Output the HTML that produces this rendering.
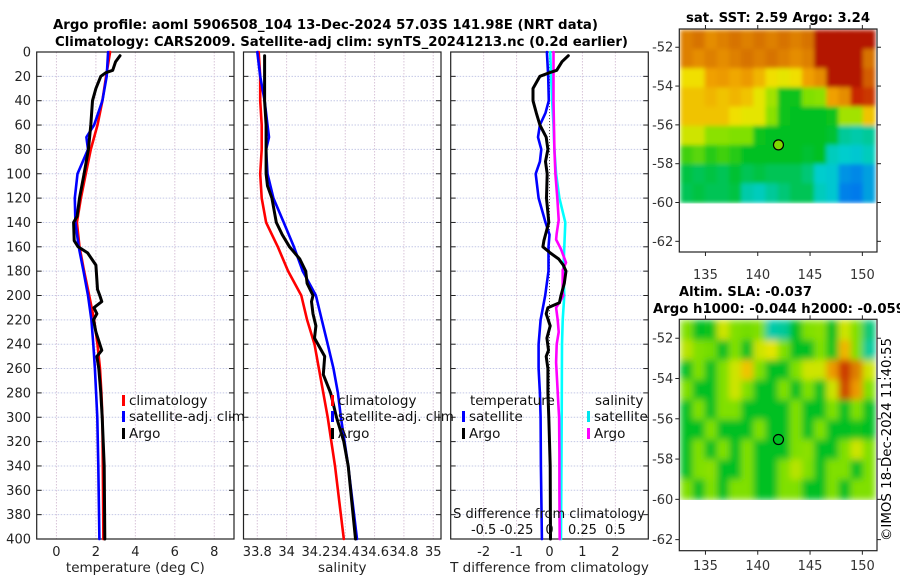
<!DOCTYPE html>
<html><head><meta charset="utf-8">
<style>
html,body{margin:0;padding:0;background:#fff;}
svg{display:block;font-family:"DejaVu Sans","Liberation Sans",sans-serif;}
</style></head>
<body>
<svg id="fig" width="900" height="580" viewBox="0 0 900 580" xmlns="http://www.w3.org/2000/svg">
<defs>
<filter id="blurA" x="0" y="0" width="1" height="1"><feGaussianBlur stdDeviation="2" edgeMode="duplicate"/></filter>
<filter id="blurB" x="0" y="0" width="1" height="1"><feGaussianBlur stdDeviation="3.5" edgeMode="duplicate"/></filter>
</defs>
<text x="53" y="29" font-size="13.5" font-weight="bold" textLength="545" lengthAdjust="spacingAndGlyphs">Argo profile: aoml 5906508_104 13-Dec-2024 57.03S 141.98E (NRT data)</text>
<text x="55" y="46" font-size="13.5" font-weight="bold" textLength="573" lengthAdjust="spacingAndGlyphs">Climatology: CARS2009. Satellite-adj clim: synTS_20241213.nc (0.2d earlier)</text>
<text x="778" y="22" font-size="13.5" font-weight="bold" text-anchor="middle" textLength="184" lengthAdjust="spacingAndGlyphs">sat. SST: 2.59 Argo: 3.24</text>
<text x="679" y="296" font-size="13.5" font-weight="bold" textLength="133" lengthAdjust="spacingAndGlyphs">Altim. SLA: -0.037</text>
<text x="653" y="313" font-size="13.5" font-weight="bold" textLength="252" lengthAdjust="spacingAndGlyphs">Argo h1000: -0.044 h2000: -0.059</text>
<text transform="translate(891,541) rotate(-90)" font-size="13" textLength="203" lengthAdjust="spacingAndGlyphs">©IMOS 18-Dec-2024 11:40:55</text>
</svg>
<script>
// ---------- DATA ----------
const depthTicks = [0,20,40,60,80,100,120,140,160,180,200,220,240,260,280,300,320,340,360,380,400];
const tempTicks = [0,2,4,6,8];
const salTicks = [33.8,34,34.2,34.4,34.6,34.8,35];
const salTickLabels = ["33.8","34","34.2","34.4","34.6","34.8","35"];
const tdiffTicks = [-2,-1,0,1,2];
const sdiffTicks = [-0.5,-0.25,0,0.25,0.5];
const sdiffTickLabels = ["-0.5","-0.25","0","0.25","0.5"];

const tClimDepth = [0,20,40,60,80,100,120,140,160,180,200,220,240,260,280,300,340,400];
const tClimVal   = [2.72,2.52,2.33,2.08,1.74,1.49,1.24,1.04,1.17,1.40,1.66,1.91,2.08,2.21,2.28,2.33,2.35,2.38];
const tSatDepth  = [0,20,40,60,70,80,100,120,140,160,180,200,220,240,260,300,340,400];
const tSatVal    = [2.62,2.55,2.33,1.91,1.52,1.60,1.07,0.93,0.96,1.13,1.37,1.60,1.77,1.87,1.95,2.07,2.12,2.18];
const tArgoDepth = [3,8,15,17,20,30,40,60,80,100,120,135,140,155,160,165,175,180,195,200,205,210,215,220,230,245,250,260,280,300,340,400];
const tArgoVal   = [3.22,3.0,2.85,2.5,2.25,2.0,1.83,1.74,1.62,1.40,1.17,1.05,0.87,0.90,1.10,1.58,2.0,2.02,2.08,2.2,2.3,1.9,2.05,1.88,2.0,2.3,2.05,2.15,2.25,2.32,2.42,2.45];

const sClimDepth = [0,20,40,60,80,100,120,140,150,160,180,200,220,240,260,280,300,340,400];
const sClimVal   = [33.81,33.82,33.82,33.83,33.83,33.82,33.83,33.86,33.90,33.94,34.01,34.10,34.14,34.19,34.22,34.25,34.28,34.33,34.39];
const sSatDepth  = [0,20,40,60,70,80,100,120,140,160,180,200,220,240,260,280,300,340,400];
const sSatVal    = [33.80,33.82,33.85,33.87,33.88,33.86,33.87,33.91,33.98,34.05,34.11,34.20,34.24,34.28,34.32,34.35,34.37,34.42,34.48];
const sArgoDepth = [3,20,40,60,80,100,110,120,140,150,160,170,180,190,200,205,215,225,235,250,265,280,300,320,340,400];
const sArgoVal   = [33.85,33.85,33.85,33.86,33.86,33.86,33.87,33.90,33.93,33.97,34.02,34.09,34.13,34.14,34.18,34.17,34.18,34.20,34.19,34.26,34.25,34.30,34.34,34.39,34.42,34.47];

const dtSatDepth  = [0,20,40,50,60,70,80,90,100,120,140,150,160,180,200,220,240,260,280,300,340,400];
const dtSatVal    = [-0.08,-0.04,-0.02,-0.12,-0.29,-0.35,-0.25,-0.29,-0.42,-0.33,-0.12,0.0,-0.03,-0.03,-0.13,-0.27,-0.33,-0.33,-0.29,-0.27,-0.26,-0.23];
const dtArgoDepth = [3,8,15,17,20,30,40,50,60,70,80,90,100,120,140,155,160,165,170,175,180,190,200,206,210,215,225,235,245,250,260,280,300,320,340,400];
const dtArgoVal   = [0.57,0.38,0.22,0.0,-0.29,-0.5,-0.5,-0.4,-0.29,-0.1,-0.05,-0.12,-0.07,-0.09,-0.02,-0.17,-0.2,0.02,0.28,0.42,0.5,0.45,0.35,0.3,-0.05,-0.1,0.02,-0.08,-0.03,-0.1,-0.05,-0.05,-0.02,0.0,0.02,0.03];
const dsArgoDepth = [0,40,80,100,121,138,149,154,162,173,179,198,200,205,210,220,230,240,255,270,290,300,330,360,400];
const dsArgoVal   = [0.12,0.12,0.15,0.18,0.24,0.28,0.22,0.20,0.35,0.50,0.40,0.40,0.42,0.32,0.20,0.25,0.28,0.22,0.20,0.23,0.27,0.29,0.30,0.30,0.31];
const dsSatDepth  = [0,20,40,60,80,100,120,140,160,180,200,220,240,300,400];
const dsSatVal    = [0.02,0.05,0.08,0.12,0.15,0.20,0.30,0.48,0.45,0.42,0.45,0.40,0.38,0.37,0.35];

// maps: 16 cols (lon 132.5..151.4) x 9 rows (lat -51.06 .. -60), value 0..1 colormap; null = no data
const sstRow0 = [0.80,0.82,0.78,0.80,0.82,0.80,0.82,0.80,0.82,0.80,0.82,0.96,0.96,0.96,0.96,0.96];
const sstRow1 = [0.80,0.78,0.80,0.78,0.80,0.82,0.80,0.82,0.80,0.78,0.80,0.96,0.96,0.96,0.96,0.82];
const sstRow2 = [0.66,0.66,0.75,0.76,0.74,0.76,0.72,0.66,0.64,0.66,0.75,0.78,0.96,0.96,0.96,0.85];
const sstRow3 = [0.70,0.70,0.72,0.70,0.72,0.70,0.64,0.58,0.46,0.46,0.55,0.56,0.75,0.78,0.92,0.90];
const sstRow4 = [0.70,0.70,0.70,0.70,0.66,0.64,0.64,0.56,0.46,0.45,0.45,0.45,0.46,0.58,0.58,0.70];
const sstRow5 = [0.62,0.62,0.56,0.56,0.55,0.55,0.46,0.45,0.45,0.45,0.45,0.45,0.44,0.38,0.37,0.38];
const sstRow6 = [0.50,0.52,0.48,0.50,0.48,0.45,0.45,0.45,0.45,0.45,0.44,0.45,0.36,0.35,0.34,0.36];
const sstRow7 = [0.43,0.42,0.43,0.42,0.44,0.42,0.43,0.42,0.42,0.42,0.40,0.35,0.34,0.26,0.24,0.28];
const sstRow8 = [0.42,0.43,0.42,0.42,0.43,0.37,0.36,0.38,0.40,0.42,0.42,0.36,0.34,0.22,0.20,0.28];
const sstRows = [sstRow0,sstRow1,sstRow2,sstRow3,sstRow4,sstRow5,sstRow6,sstRow7,sstRow8];

const slaRow0 = [0.55,0.45,0.46,0.62,0.55,0.54,0.55,0.37,0.38,0.45,0.55,0.56,0.45,0.62,0.55,0.40];
const slaRow1 = [0.60,0.55,0.54,0.45,0.55,0.45,0.62,0.64,0.55,0.45,0.45,0.55,0.46,0.72,0.55,0.38];
const slaRow2 = [0.45,0.55,0.45,0.55,0.62,0.70,0.55,0.45,0.45,0.55,0.62,0.62,0.76,0.90,0.80,0.62];
const slaRow3 = [0.55,0.45,0.45,0.55,0.62,0.55,0.45,0.45,0.55,0.45,0.55,0.45,0.62,0.88,0.76,0.55];
const slaRow4 = [0.45,0.55,0.45,0.55,0.55,0.45,0.45,0.45,0.45,0.55,0.45,0.45,0.55,0.45,0.55,0.45];
const slaRow5 = [0.45,0.45,0.55,0.45,0.45,0.45,0.55,0.45,0.45,0.55,0.45,0.55,0.45,0.45,0.46,0.45];
const slaRow6 = [0.45,0.55,0.45,0.55,0.45,0.55,0.45,0.45,0.45,0.55,0.56,0.45,0.45,0.55,0.62,0.55];
const slaRow7 = [0.45,0.55,0.56,0.45,0.45,0.55,0.45,0.45,0.55,0.60,0.55,0.45,0.55,0.55,0.45,0.55];
const slaRow8 = [0.55,0.45,0.55,0.45,0.55,0.55,0.45,0.45,0.55,0.55,0.45,0.45,0.55,0.45,0.55,0.55];
const slaRows = [slaRow0,slaRow1,slaRow2,slaRow3,slaRow4,slaRow5,slaRow6,slaRow7,slaRow8];

const argoLon = [141.98];
const argoLat = [-57.03];
const mapLonTicks = [135,140,145,150];
const mapLatTicks = [-52,-54,-56,-58,-60,-62];

// ---------- DRAW ----------
const NS = "http://www.w3.org/2000/svg";
const svg = document.getElementById('fig');
function mk(tag, attrs, parent){ const e=document.createElementNS(NS,tag); for(const k in attrs) e.setAttribute(k,attrs[k]); (parent||svg).appendChild(e); return e; }

const Y0=52, Y1=539, DMIN=0, DMAX=400;
function yD(d){ return Y0 + (d-DMIN)/(DMAX-DMIN)*(Y1-Y0); }
function scaleX(x0,x1,vmin,vmax){ return v => x0 + (v-vmin)/(vmax-vmin)*(x1-x0); }

const panels = [
  {name:'temperature-panel', x0:36.7, x1:234, vmin:-1, vmax:9, ticks:tempTicks, labels:tempTicks.map(String), title:'temperature (deg C)'},
  {name:'salinity-panel', x0:243.5, x1:441, vmin:33.706, vmax:35.053, ticks:salTicks, labels:salTickLabels, title:'salinity'},
  {name:'difference-panel', x0:450.7, x1:648.3, vmin:-3, vmax:3, ticks:tdiffTicks, labels:tdiffTicks.map(String), title:'T difference from climatology'}
];
panels.forEach((p,pi)=>{
  const g = mk('g',{});
  
  
  p.sx = scaleX(p.x0,p.x1,p.vmin,p.vmax);
  depthTicks.forEach(d=>{
    const l=mk('line',{x1:p.x0,x2:p.x1,y1:yD(d),y2:yD(d),stroke:'#c4c8e6','stroke-width':1,'stroke-dasharray':'1.5,1.5'},g);
     
    const t1=mk('line',{x1:p.x0,x2:p.x0+5,y1:yD(d),y2:yD(d),stroke:'#222','stroke-width':1},g);
     
    const t2=mk('line',{x1:p.x1-5,x2:p.x1,y1:yD(d),y2:yD(d),stroke:'#222','stroke-width':1},g);
     
    if(pi===0){
      const tl=mk('text',{x:31,y:yD(d)+4.5,'font-size':13,'text-anchor':'end',fill:'#222'},g);
      tl.textContent=String(d);
       
    }
  });
  p.ticks.forEach((v,i)=>{
    const x=p.sx(v);
    const l=mk('line',{x1:x,x2:x,y1:Y0,y2:Y1,stroke:'#d8c4d8','stroke-width':1,'stroke-dasharray':'1.5,1.5'},g);
     
    const tl=mk('text',{x:x,y:556,'font-size':13,'text-anchor':'middle',fill:'#222'},g);
    tl.textContent=p.labels[i];
     
  });
  const at=mk('text',{x:(p.x0+p.x1)/2,y:572,'font-size':13.5,'text-anchor':'middle',fill:'#222'},g);
  at.textContent=p.title;
   
  const fr=mk('rect',{x:p.x0,y:Y0,width:p.x1-p.x0,height:Y1-Y0,fill:'none',stroke:'#222','stroke-width':1.2},g);
   
});

function series(p, ds, vs, color, name, w){
  const pts = ds.map((d,i)=> p.sx(vs[i]).toFixed(1)+','+yD(d).toFixed(1)).join(' ');
  const pl = mk('polyline',{points:pts,fill:'none',stroke:color,'stroke-width':w||2.6,'stroke-linejoin':'round','stroke-linecap':'round'});
  
  
}
const zl = mk('line',{x1:panels[2].sx(0),x2:panels[2].sx(0),y1:Y0,y2:Y1,stroke:'#555','stroke-width':1,'stroke-dasharray':'1,2'});



series(panels[0], tClimDepth, tClimVal, '#ff0000', 'temp-climatology-line');
series(panels[0], tSatDepth, tSatVal, '#0000ff', 'temp-satellite-line');
series(panels[0], tArgoDepth, tArgoVal, '#000000', 'temp-argo-line', 3);
series(panels[1], sClimDepth, sClimVal, '#ff0000', 'sal-climatology-line');
series(panels[1], sSatDepth, sSatVal, '#0000ff', 'sal-satellite-line');
series(panels[1], sArgoDepth, sArgoVal, '#000000', 'sal-argo-line', 3);
const sdx = v => panels[2].sx(v*4);
series(panels[2], dsSatDepth, dsSatVal, '#00ffff', 'sdiff-satellite-line');
series(panels[2], dsArgoDepth, dsArgoVal, '#ff00ff', 'sdiff-argo-line');
series(panels[2], dtSatDepth, dtSatVal, '#0000ff', 'tdiff-satellite-line');
series(panels[2], dtArgoDepth, dtArgoVal, '#000000', 'tdiff-argo-line', 3);

const sdt = mk('text',{x:549,y:518,'font-size':13,'text-anchor':'middle',fill:'#111'});
sdt.textContent='S difference from climatology';


sdiffTicks.forEach((v,i)=>{
  const t=mk('text',{x:sdx(v),y:534,'font-size':13,'text-anchor':'middle',fill:'#111'});
  t.textContent=sdiffTickLabels[i];
  
  
});

function legendEntry(x,y,color,label,name){
  const r=mk('rect',{x:x,y:y-10,width:3,height:11,fill:color});
  
  
  const t=mk('text',{x:x+7,y:y,'font-size':13.5,fill:'#111'});
  t.textContent=label;
  
  
}
legendEntry(122,405,'#ff0000','climatology','legend-entry-climatology');
legendEntry(122,421,'#0000ff','satellite-adj. clim','legend-entry-satellite');
legendEntry(122,438,'#000000','Argo','legend-entry-argo');
legendEntry(331,405,'#ff0000','climatology','legend-entry-climatology');
legendEntry(331,421,'#0000ff','satellite-adj. clim','legend-entry-satellite');
legendEntry(331,438,'#000000','Argo','legend-entry-argo');
const lt1=mk('text',{x:470,y:405,'font-size':13.5,fill:'#111'}); lt1.textContent='temperature';


legendEntry(462,421,'#0000ff','satellite','legend-entry-t-satellite');
legendEntry(462,438,'#000000','Argo','legend-entry-t-argo');
const lt2=mk('text',{x:595,y:405,'font-size':13.5,fill:'#111'}); lt2.textContent='salinity';


legendEntry(587,421,'#00e5ee','satellite','legend-entry-s-satellite');
legendEntry(587,438,'#ff00ff','Argo','legend-entry-s-argo');

// ---------- MAPS ----------
const cmapStops = [[0,[0,48,255]],[0.25,[0,140,230]],[0.35,[0,205,205]],[0.45,[0,192,32]],[0.55,[128,224,0]],[0.65,[240,230,0]],[0.75,[240,160,0]],[0.82,[215,115,0]],[0.92,[200,40,0]],[1,[160,0,0]]];
function cmap(v){
  for(let i=1;i<cmapStops.length;i++){
    if(v<=cmapStops[i][0]){
      const [a,ca]=cmapStops[i-1],[b,cb]=cmapStops[i]; const t=(v-a)/(b-a);
      return 'rgb('+ca.map((c,k)=>Math.round(c+(cb[k]-c)*t)).join(',')+')';
    }
  }
  return 'rgb(160,0,0)';
}
function drawMap(name, bx0,bx1,by0,by1, rows, filled, lonLabelY, filt){
  const g=mk('g',{});
  
  
  const LON0=132.5, LON1=151.4, LAT0=-51.06, LAT1=-62.55;
  const sx=scaleX(bx0,bx1,LON0,LON1);
  const sy=v=> by0 + (v-LAT0)/(LAT1-LAT0)*(by1-by0);
  const gx0=sx(132.6), gx1=sx(151.2), gy0=sy(-51.1), gy1=sy(-60);
  const nc=rows[0].length, nr=rows.length;
  const cw=(gx1-gx0)/nc, ch=(gy1-gy0)/nr;
  const cg=mk('g',{filter:'url(#'+filt+')'},g);
  
  
  rows.forEach((row,r)=>row.forEach((v,c)=>{
    if(v===null) return;
    const cell=mk('rect',{x:(gx0+c*cw).toFixed(2),y:(gy0+r*ch).toFixed(2),width:(cw+0.6).toFixed(2),height:(ch+0.6).toFixed(2),fill:cmap(v)},cg);
    
    
  }));
  mapLatTicks.forEach(v=>{
    const y=sy(v);
    mk('line',{x1:bx0-4,x2:bx0,y1:y,y2:y,stroke:'#222'},g);
    mk('line',{x1:bx1,x2:bx1+4,y1:y,y2:y,stroke:'#222'},g);
    const t=mk('text',{x:bx0-6,y:y+4.5,'font-size':13,'text-anchor':'end',fill:'#333'},g);
    t.textContent=String(v);
     
  });
  mapLonTicks.forEach(v=>{
    const x=sx(v);
    mk('line',{x1:x,x2:x,y1:by1,y2:by1+4,stroke:'#222'},g);
    mk('line',{x1:x,x2:x,y1:by0-4,y2:by0,stroke:'#222'},g);
    const t=mk('text',{x:x,y:lonLabelY,'font-size':13,'text-anchor':'middle',fill:'#333'},g);
    t.textContent=String(v);
     
  });
  const fr=mk('rect',{x:bx0,y:by0,width:bx1-bx0,height:by1-by0,fill:'none',stroke:'#222','stroke-width':1.2},g);
   
  argoLon.forEach((lo,i)=>{
    const c=mk('circle',{cx:sx(lo),cy:sy(argoLat[i]),r:5,fill:filled?'#80d800':'none',stroke:'#000','stroke-width':1.2},g);
    
    
  });
}
drawMap('sst-map', 679.3,877,29,252, sstRows, true, 279, 'blurA');
drawMap('sla-map', 679.3,877,319.3,550.7, slaRows, false, 570, 'blurB');
</script>
</body></html>
